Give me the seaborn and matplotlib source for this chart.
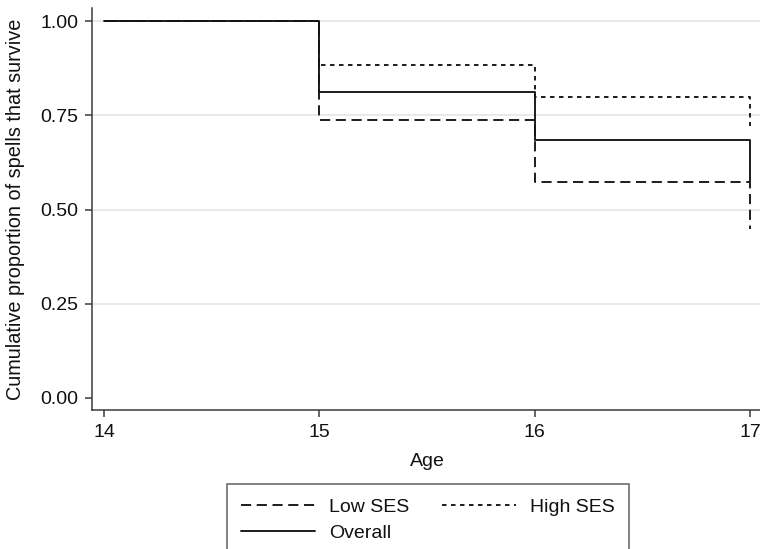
"""Kaplan-Meier style survival steps by SES group."""
import matplotlib
matplotlib.use("Agg")
import matplotlib.pyplot as plt
import pandas as pd
import seaborn as sns

# survival, one value per age
ages = [14, 15, 16, 17]
low_ses = [1.00, 0.738, 0.573, 0.448]
high_ses = [1.00, 0.885, 0.800, 0.722]
overall = [1.00, 0.813, 0.685, 0.575]

groups = ["Low SES", "High SES", "Overall"]
y_ticks = [0.00, 0.25, 0.50, 0.75, 1.00]

df = pd.concat([
    pd.DataFrame({"age": ages, "surv": vals, "group": name})
    for name, vals in zip(groups, [low_ses, high_ses, overall])
], ignore_index=True)

sns.set_theme(style="white")
plt.rcParams["font.family"] = ["Liberation Sans", "DejaVu Sans"]

fig = plt.figure(figsize=(7.6, 5.49), dpi=100)
ax = fig.add_axes([0.121, 0.2532, 0.883, 0.7322])

ink = "#141414"
lw = 1.35
sns.lineplot(
    data=df, x="age", y="surv", style="group", style_order=groups,
    dashes={"Low SES": (5.4, 3.0), "High SES": (2.4, 2.4), "Overall": ""},
    color=ink, linewidth=lw, drawstyle="steps-post", legend=False,
    estimator=None, ax=ax,
)

ax.set_xlim(13.944, 17.06)
ax.set_ylim(-0.032, 1.035)
ax.set_xticks(ages)
ax.set_yticks(y_ticks)
ax.set_xticklabels([str(a) for a in ages], fontsize=14)
ax.set_yticklabels([f"{v:.2f}" for v in y_ticks], fontsize=14)

for v in y_ticks[1:]:
    ax.axhline(v, color="#e3e3e3", linewidth=1.1, zorder=0)

for side in ["top", "right"]:
    ax.spines[side].set_visible(False)
for side in ["left", "bottom"]:
    ax.spines[side].set_color("#3a3a3a")
    ax.spines[side].set_linewidth(1.1)
ax.tick_params(axis="both", direction="out", length=5, width=1.1,
               color="#3a3a3a", labelcolor="#111111", pad=5,
               left=True, bottom=True)

ax.set_xlabel("Age", fontsize=14, labelpad=9, color="#111111")
ax.set_ylabel("Cumulative proportion of spells that survive", fontsize=14.3,
              labelpad=11, color="#111111")

# legend: row 1 Low / High, row 2 Overall (column-major order)
lines = {g: l for g, l in zip(groups, ax.get_lines())}
order = ["Low SES", "Overall", "High SES"]
leg = fig.legend(
    [lines[g] for g in order], order, ncol=2,
    loc="upper left", bbox_to_anchor=(0.2987, 0.1184),
    prop={"size": 14},
    handlelength=3.8, columnspacing=1.7, handletextpad=0.72,
    fancybox=False, edgecolor="#3a3a3a", frameon=True,
    borderpad=0.72, labelspacing=0.45, borderaxespad=0,
)
leg.get_frame().set_linewidth(1.1)
for t in leg.get_texts():
    t.set_color("#111111")

fig.savefig("out.png", dpi=100)
